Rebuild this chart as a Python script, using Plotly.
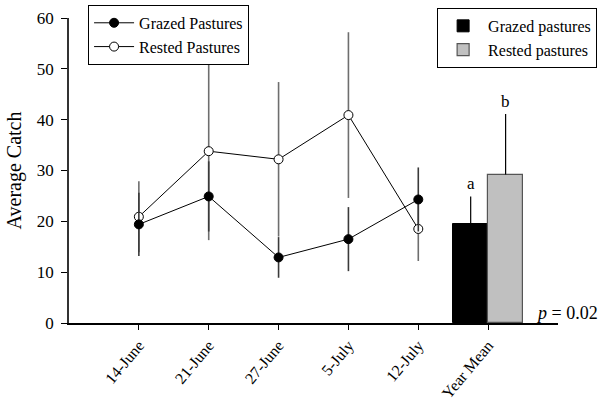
import plotly.graph_objects as go

dates = ["14-June", "21-June", "27-June", "5-July", "12-July"]
tick_labels = ["14-June", "21-June", "27-June", "5-July", "12-July", "Year Mean"]

grazed = [19.4, 24.9, 12.9, 16.5, 24.3]
grazed_err = [6.2, 6.9, 4.0, 6.3, 6.3]
rested = [20.9, 33.8, 32.2, 40.9, 18.5]
rested_err = [7.0, 17.5, 15.2, 16.3, 6.3]

year_mean_grazed = [19.5]
year_mean_grazed_err = [5.4]
year_mean_rested = [29.2]
year_mean_rested_err = [11.9]
sig_letters = ["a", "b"]
p_text = "<i>p</i> = 0.02"

FONT = "Liberation Serif, Times New Roman, serif"
xpos = list(range(len(dates)))
ymx = len(dates)

fig = go.Figure()

fig.add_trace(go.Scatter(
    x=xpos, y=rested, name="Rested Pastures", mode="lines+markers",
    line=dict(color="black", width=1),
    marker=dict(symbol="circle", size=9, color="white", line=dict(color="black", width=1)),
    error_y=dict(type="data", array=rested_err, color="#6e6e6e", thickness=1.6, width=0),
    legend="legend", legendrank=2,
))
fig.add_trace(go.Scatter(
    x=xpos, y=grazed, name="Grazed Pastures", mode="lines+markers",
    line=dict(color="black", width=1),
    marker=dict(symbol="circle", size=9, color="black", line=dict(color="black", width=1)),
    error_y=dict(type="data", array=grazed_err, color="#3a3a3a", thickness=1.6, width=0),
    legend="legend", legendrank=1,
))

fig.add_trace(go.Bar(
    x=[ymx], y=year_mean_grazed, name="Grazed pastures",
    marker=dict(color="black", line=dict(color="black", width=1)),
    error_y=dict(type="data", symmetric=False, array=year_mean_grazed_err, arrayminus=[0],
                 color="black", thickness=1.2, width=0),
    legend="legend2", legendrank=1,
))
fig.add_trace(go.Bar(
    x=[ymx], y=year_mean_rested, name="Rested pastures",
    marker=dict(color="#c0c0c0", line=dict(color="#555555", width=1.2)),
    error_y=dict(type="data", symmetric=False, array=year_mean_rested_err, arrayminus=[0],
                 color="black", thickness=1.2, width=0),
    legend="legend2", legendrank=2,
))

annotations = [
    dict(x=ymx, y=year_mean_grazed[0] + year_mean_grazed_err[0], xref="x", yref="y",
         text=sig_letters[0], showarrow=False, xshift=-17.5, yanchor="bottom", yshift=1,
         font=dict(family=FONT, size=17, color="black")),
    dict(x=ymx, y=year_mean_rested[0] + year_mean_rested_err[0], xref="x", yref="y",
         text=sig_letters[1], showarrow=False, xshift=17.5, yanchor="bottom", yshift=1,
         font=dict(family=FONT, size=17, color="black")),
    dict(x=1.085, y=2, xref="paper", yref="y", text=p_text, showarrow=False,
         xanchor="right", yanchor="middle", font=dict(family=FONT, size=18, color="black")),
]

fig.update_layout(
    width=600, height=403,
    margin=dict(l=69, r=42, t=18, b=80, autoexpand=False),
    paper_bgcolor="white", plot_bgcolor="white",
    font=dict(family=FONT, size=17, color="black"),
    barmode="group", bargap=0, bargroupgap=0,
    annotations=annotations,
    legend=dict(x=0.039, y=1.043, xanchor="left", yanchor="top",
                bordercolor="black", borderwidth=1, bgcolor="white",
                font=dict(family=FONT, size=16), tracegroupgap=0,
                itemwidth=40),
    legend2=dict(x=1.08, y=1.033, xanchor="right", yanchor="top",
                 bordercolor="black", borderwidth=1, bgcolor="white",
                 font=dict(family=FONT, size=16), itemwidth=40),
    xaxis=dict(range=[-1, 6], tickvals=list(range(len(tick_labels))), ticktext=tick_labels,
               tickangle=-50, showgrid=False, zeroline=False, showline=True,
               linecolor="black", linewidth=1.5, ticks="outside", ticklen=5,
               tickcolor="black", tickwidth=1,
               tickfont=dict(family=FONT, size=16)),
    yaxis=dict(range=[0, 60], tickvals=[0, 10, 20, 30, 40, 50, 60], showgrid=False,
               zeroline=False, showline=True, linecolor="#333333", linewidth=1.5,
               ticks="outside", ticklen=6, tickcolor="black", tickwidth=1,
               ticklabelstandoff=4,
               tickfont=dict(family=FONT, size=17),
               title=dict(text="Average Catch", font=dict(family=FONT, size=20), standoff=10)),
    showlegend=True,
)

fig.write_html("out.html", config={"displayModeBar": False},
               post_script="document.body.style.margin='0';document.body.style.padding='0';")
